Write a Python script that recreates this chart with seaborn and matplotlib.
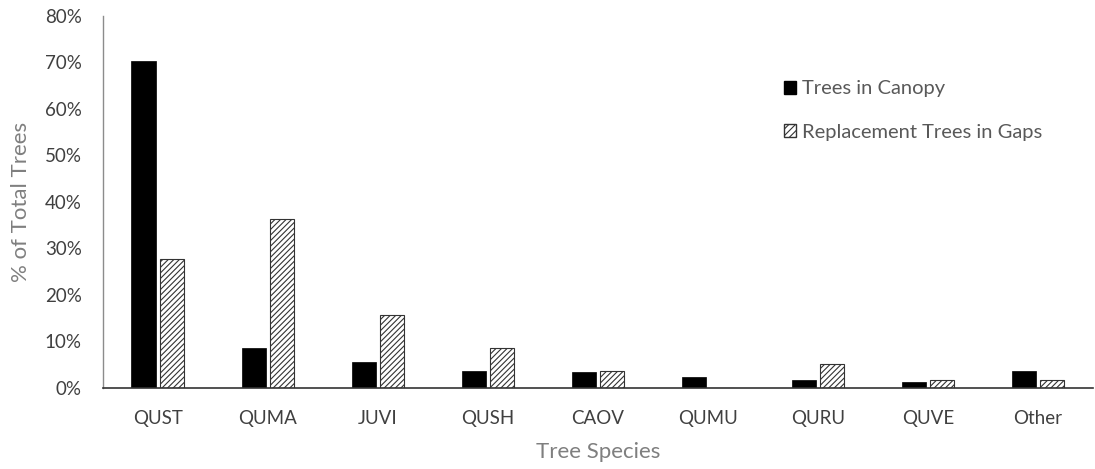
import matplotlib
matplotlib.use("Agg")
import matplotlib.pyplot as plt
from matplotlib.patches import Patch
from matplotlib.ticker import PercentFormatter
import seaborn as sns
import pandas as pd

species = ["QUST", "QUMA", "JUVI", "QUSH", "CAOV", "QUMU", "QURU", "QUVE", "Other"]
canopy = [70.3, 8.5, 5.5, 3.5, 3.3, 2.2, 1.6, 1.2, 3.5]
gaps = [27.6, 36.2, 15.6, 8.6, 3.5, 0.0, 5.2, 1.7, 1.7]
series = ["Trees in Canopy", "Replacement Trees in Gaps"]

df = pd.DataFrame({
    "species": species * 2,
    "value": canopy + gaps,
    "series": [series[0]] * len(species) + [series[1]] * len(species),
})

sns.set_style("white")
plt.rcParams["font.family"] = ["Lato", "DejaVu Sans"]
plt.rcParams["hatch.linewidth"] = 0.8

fig = plt.figure(figsize=(10.95, 4.69), dpi=100)
ax = fig.add_axes([102.7 / 1095, 1 - 387.7 / 469, (1093 - 102.7) / 1095, (387.7 - 15.7) / 469])

sns.barplot(data=df, x="species", y="value", hue="series", hue_order=series,
            palette=["black", "white"], width=0.51, gap=0.13, legend=False,
            saturation=1, ax=ax)

for bar in ax.containers[0]:
    bar.set_edgecolor("black")
    bar.set_linewidth(0.5)
for bar in ax.containers[1]:
    bar.set_hatch("//////")
    bar.set_edgecolor("#333333")
    bar.set_linewidth(0.8)

ax.set_ylim(0, 80)
ax.set_xlim(-0.5, len(species) - 0.5)
ax.set_yticks(range(0, 81, 10))
ax.yaxis.set_major_formatter(PercentFormatter(decimals=0))
ax.tick_params(axis="both", length=0, labelsize=13.5, colors="#404040")
ax.tick_params(axis="x", pad=16)
ax.tick_params(axis="y", pad=15)

for s in ["top", "right"]:
    ax.spines[s].set_visible(False)
ax.spines["left"].set_color("#8c8c8c")
ax.spines["left"].set_linewidth(1)
ax.spines["bottom"].set_color("#333333")
ax.spines["bottom"].set_linewidth(1.2)

ax.set_xlabel("Tree Species", fontsize=16, color="#7f7f7f", labelpad=11)
ax.set_ylabel("% of Total Trees", fontsize=16, color="#7f7f7f", labelpad=10)

handles = [Patch(facecolor="black", edgecolor="black"),
           Patch(facecolor="white", edgecolor="#333333", hatch="/////")]
leg = ax.legend(handles, series, loc="upper left", bbox_to_anchor=(0.67, 0.875),
                frameon=False, fontsize=14.5, labelspacing=1.3,
                handlelength=0.6, handleheight=0.6, handletextpad=0.3)
for t in leg.get_texts():
    t.set_color("#595959")

fig.savefig("out.png", dpi=100)
